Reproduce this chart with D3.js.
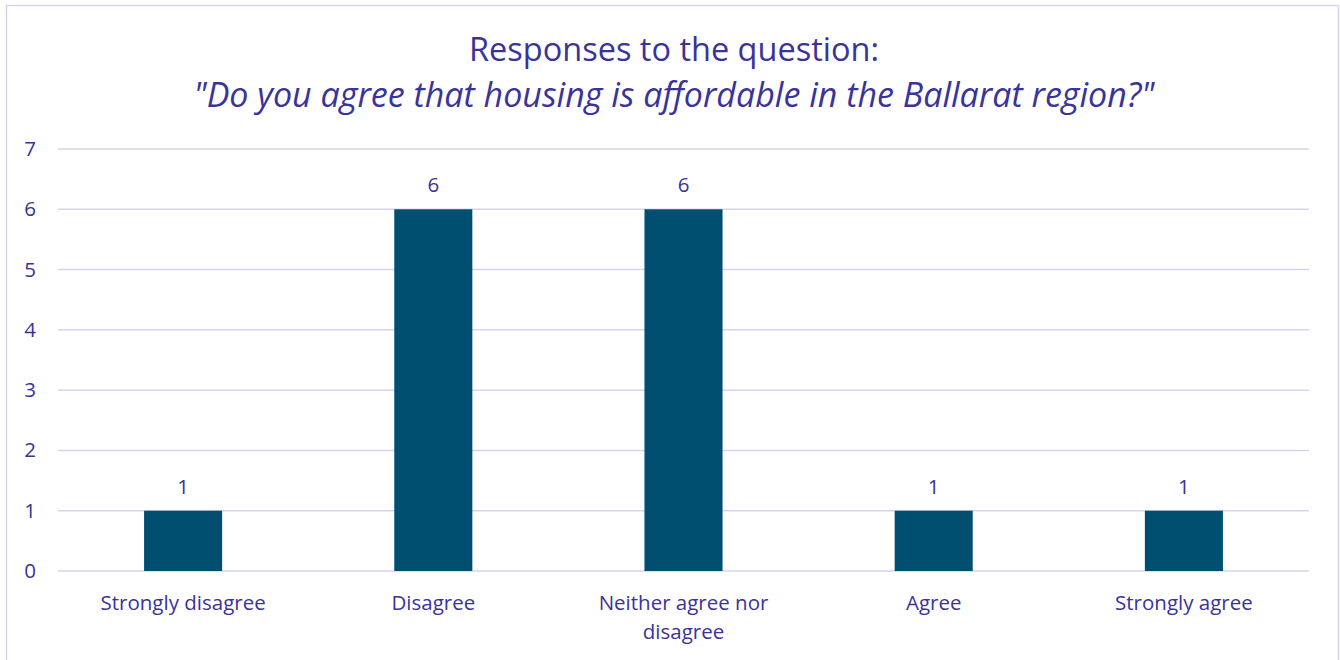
<!DOCTYPE html>
<html>
<head>
<meta charset="utf-8">
<script src="https://cdn.jsdelivr.net/npm/d3@7"></script>
<style>
  html, body { margin: 0; padding: 0; background: #fff; }
  svg { display: block; font-family: "Open Sans", "Noto Sans", sans-serif; }
</style>
</head>
<body>
<svg id="chart" width="1340" height="660"></svg>
<script>
// Survey responses
const categories = ["Strongly disagree", "Disagree", "Neither agree nor disagree", "Agree", "Strongly agree"];
const responses = [1, 6, 6, 1, 1];
const yTicks = [0, 1, 2, 3, 4, 5, 6, 7];
const titleLines = ["Responses to the question:", "\"Do you agree that housing is affordable in the Ballarat region?\""];

const textColor = "#3a3399";
const gridColor = "#d6d3ef";
const barColor = "#004f71";
const labelSize = 20.5;

const svg = d3.select("#chart");
const margin = { left: 58, right: 31, top: 149, bottom: 89 };
const W = 1340, H = 660;

// chart border
svg.append("rect")
  .attr("x", 6.5).attr("y", 5.5)
  .attr("width", 1332).attr("height", 660)
  .attr("fill", "none").attr("stroke", gridColor).attr("stroke-width", 1.5);

const x = d3.scaleBand()
  .domain(categories)
  .range([margin.left, W - margin.right])
  .paddingInner(0.688)
  .paddingOuter(0.344);

const y = d3.scaleLinear()
  .domain([0, 7])
  .range([H - margin.bottom, margin.top]);

// gridlines
svg.append("g")
  .selectAll("line")
  .data(yTicks)
  .join("line")
  .attr("x1", margin.left).attr("x2", W - margin.right)
  .attr("y1", d => y(d)).attr("y2", d => y(d))
  .attr("stroke", gridColor).attr("stroke-width", 1.5);

// y axis labels
const yAxis = d3.axisLeft(y).tickValues(yTicks).tickFormat(d3.format("d")).tickSize(0).tickPadding(0);
svg.append("g")
  .attr("transform", "translate(36,0)")
  .call(yAxis)
  .call(g => g.select(".domain").remove())
  .call(g => g.selectAll("text")
    .attr("fill", textColor)
    .style("font-size", labelSize + "px")
    .style("font-family", "\"Open Sans\", sans-serif"));

// bars
svg.append("g")
  .selectAll("rect")
  .data(responses)
  .join("rect")
  .attr("x", (d, i) => x(categories[i]))
  .attr("width", x.bandwidth())
  .attr("y", d => y(d))
  .attr("height", d => y(0) - y(d))
  .attr("fill", barColor);

// value labels
svg.append("g")
  .selectAll("text")
  .data(responses)
  .join("text")
  .attr("x", (d, i) => x(categories[i]) + x.bandwidth() / 2)
  .attr("y", d => y(d) - 17)
  .attr("text-anchor", "middle")
  .attr("fill", textColor)
  .style("font-size", labelSize + "px")
  .text(d => d);

// category labels (wrapped)
const catWrap = {
  "Neither agree nor disagree": ["Neither agree nor", "disagree"]
};
const xg = svg.append("g");
categories.forEach(c => {
  const lines = catWrap[c] || [c];
  const t = xg.append("text")
    .attr("x", x(c) + x.bandwidth() / 2)
    .attr("y", y(0) + 39)
    .attr("text-anchor", "middle")
    .attr("fill", textColor)
    .style("font-size", labelSize + "px");
  lines.forEach((ln, i) => {
    t.append("tspan")
      .attr("x", x(c) + x.bandwidth() / 2)
      .attr("dy", i === 0 ? 0 : 29)
      .text(ln);
  });
});

// title
svg.append("text")
  .attr("x", 674).attr("y", 61)
  .attr("text-anchor", "middle")
  .attr("fill", textColor)
  .style("font-size", "32.5px")
  .text(titleLines[0]);
svg.append("text")
  .attr("x", 674).attr("y", 107)
  .attr("text-anchor", "middle")
  .attr("fill", textColor)
  .style("font-size", "34px")
  .attr("font-style", "italic")
  .text(titleLines[1]);
</script>
</body>
</html>
